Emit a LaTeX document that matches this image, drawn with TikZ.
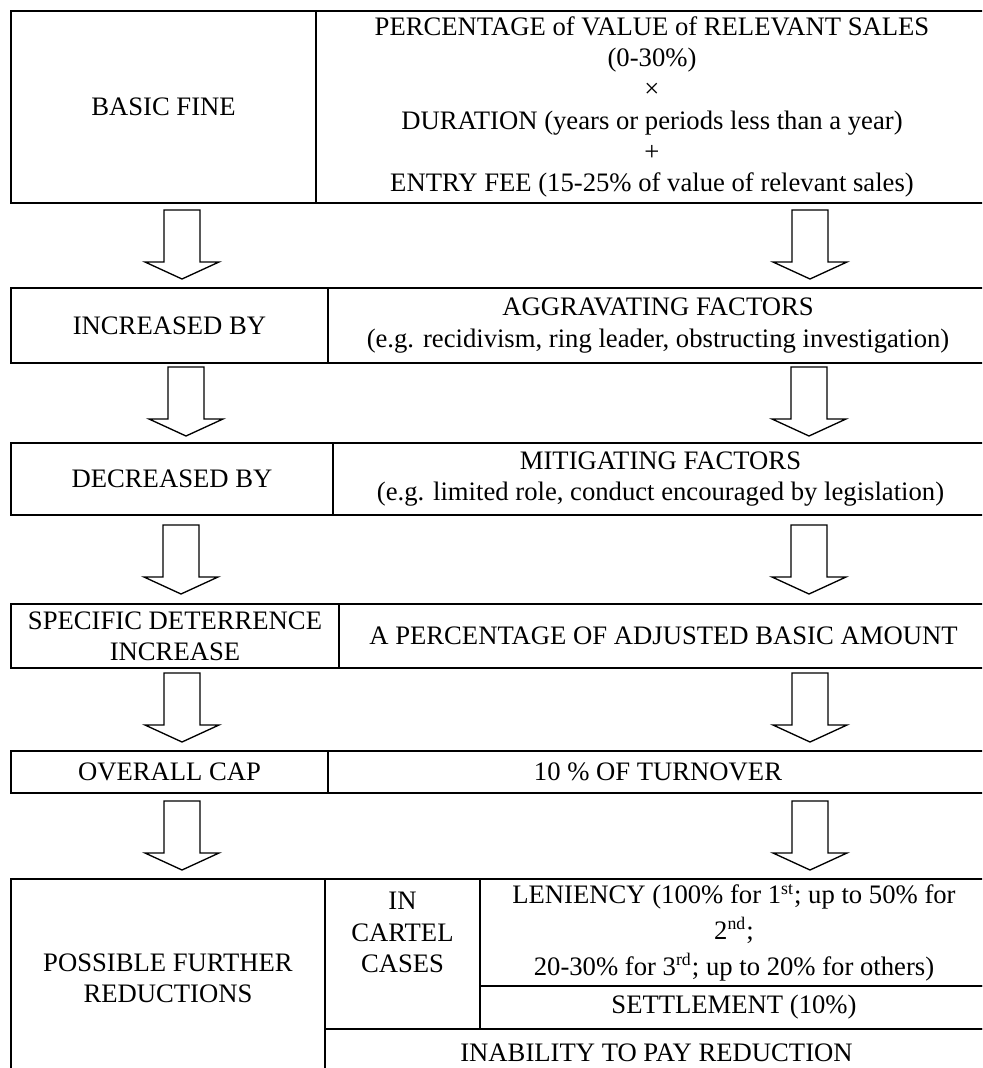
\documentclass[tikz,border=0pt]{standalone}
\usepackage{fontspec}
\setmainfont{Liberation Serif}
\usetikzlibrary{positioning}
\newcommand{\pxl}{0.45pt}

\begin{document}
\begin{tikzpicture}[
  x=0.45pt, y=-0.45pt,
  font=\fontsize{12}{14}\selectfont,
  cell/.style={draw,line width=0.9pt,anchor=north west,inner sep=0pt,align=center},
  downarr/.pic={\draw[line width=0.6pt] (-18,0) -- (18,0) -- (18,52) -- (37,52) -- (0,69) -- (-37,52) -- (-18,52) -- cycle;},
]
\clip (0,0) rectangle (982,1068);

% basic fine
\node[cell,minimum width=305*\pxl,minimum height=192*\pxl] (fine) at (10,10) {BASIC FINE};
\node[cell,minimum width=672*\pxl,minimum height=192*\pxl] (fineR) at (315,10) {
  PERCENTAGE of VALUE of RELEVANT SALES\\
  (0-30\%)\\
  ×\\
  DURATION (years or periods less than a year)\\
  +\\
  ENTRY FEE (15-25\% of value of relevant sales)};

% increased by
\node[cell,minimum width=317*\pxl,minimum height=75*\pxl] (inc) at (10,287) {INCREASED BY};
\node[cell,minimum width=660*\pxl,minimum height=75*\pxl] (incR) at (327,287) {
  AGGRAVATING FACTORS\\
  (e.g. recidivism, ring leader, obstructing investigation)};

% decreased by
\node[cell,minimum width=322*\pxl,minimum height=72*\pxl] (dec) at (10,442) {DECREASED BY};
\node[cell,minimum width=655*\pxl,minimum height=72*\pxl] (decR) at (332,442) {
  MITIGATING FACTORS\\
  (e.g. limited role, conduct encouraged by legislation)};

% deterrence
\node[cell,minimum width=328*\pxl,minimum height=64*\pxl] (det) at (10,603) {SPECIFIC DETERRENCE\\INCREASE};
\node[cell,minimum width=649*\pxl,minimum height=64*\pxl] (detR) at (338,603) {A PERCENTAGE OF ADJUSTED BASIC AMOUNT};

% cap
\node[cell,minimum width=317*\pxl,minimum height=42*\pxl] (cap) at (10,750) {OVERALL CAP};
\node[cell,minimum width=660*\pxl,minimum height=42*\pxl] (capR) at (327,750) {10 \% OF TURNOVER};

% reductions
\node[cell,minimum width=314*\pxl,minimum height=198*\pxl] (red) at (10,878) {POSSIBLE FURTHER\\REDUCTIONS};
\node[cell,minimum width=155*\pxl,minimum height=150*\pxl] (cartel) at (324,878) {};
\node[align=center,below=3pt of cartel.north] (cartelT) {IN\\CARTEL\\CASES};
\node[cell,minimum width=508*\pxl,minimum height=107*\pxl] (len) at (479,878) {
  LENIENCY (100\% for 1\textsuperscript{st}; up to 50\% for\\[2pt]
  2\textsuperscript{nd};\\[2pt]
  20-30\% for 3\textsuperscript{rd}; up to 20\% for others)};
\node[cell,minimum width=508*\pxl,minimum height=43*\pxl] (settle) at (479,985) {SETTLEMENT (10\%)};
\node[cell,minimum width=663*\pxl,minimum height=48*\pxl] (inab) at (324,1028) {INABILITY TO PAY REDUCTION};

% arrows
\pic (arrL1) at (182,210) {downarr};
\pic (arrR1) at (810,210) {downarr};
\pic (arrL2) at (186,367) {downarr};
\pic (arrR2) at (809,367) {downarr};
\pic (arrL3) at (181,525) {downarr};
\pic (arrR3) at (809,525) {downarr};
\pic (arrL4) at (182,673) {downarr};
\pic (arrR4) at (810,673) {downarr};
\pic (arrL5) at (182,801) {downarr};
\pic (arrR5) at (810,801) {downarr};

\end{tikzpicture}
\end{document}
